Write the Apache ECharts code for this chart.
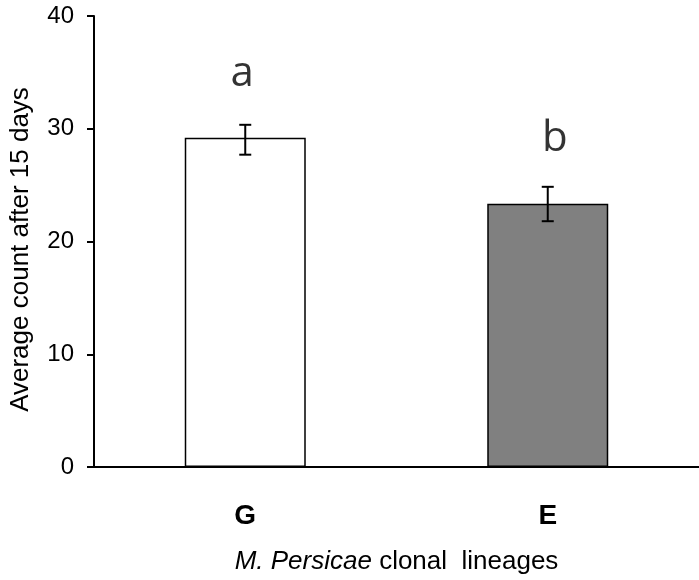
<!DOCTYPE html>
<html>
<head>
<meta charset="utf-8">
<script src="https://cdn.jsdelivr.net/npm/echarts@6/dist/echarts.min.js"></script>
<style>html,body{margin:0;padding:0;background:#fff}#c{width:699px;height:580px}</style>
</head>
<body>
<div id="c"></div>
<script>
var categories = ['G', 'E'];
var means = [29.2, 23.35];
var errLow = [27.7, 21.8];
var errHigh = [30.35, 24.85];
var letters = ['a', 'b'];
var letterY = [33.0, 27.2];
var barColors = ['#ffffff', '#808080'];
var yTicks = [0, 10, 20, 30, 40];

var chart = echarts.init(document.getElementById('c'), null, {renderer: 'canvas'});
var font = '"Liberation Sans", Arial, sans-serif';
chart.setOption({
  animation: false,
  grid: {left: 93, top: 16, bottom: 98, width: 612, containLabel: false},
  xAxis: {
    type: 'category',
    data: categories,
    axisLine: {lineStyle: {color: '#000', width: 2}},
    axisTick: {show: false},
    axisLabel: {color: '#000', fontFamily: font, fontWeight: 'bold', fontSize: 28, margin: 35},
    name: '{i|M. Persicae} clonal  lineages',
    nameLocation: 'middle',
    nameGap: 82,
    nameTextStyle: {
      color: '#000', fontFamily: font, fontSize: 26,
      rich: {i: {fontStyle: 'italic', fontFamily: font, fontSize: 26, color: '#000'}}
    }
  },
  yAxis: {
    type: 'value',
    min: 0, max: 40, interval: 10,
    axisLine: {show: true, lineStyle: {color: '#000', width: 2}},
    axisTick: {show: true, length: 7, lineStyle: {color: '#000', width: 2}},
    splitLine: {show: false},
    axisLabel: {color: '#000', fontFamily: font, fontSize: 24, margin: 20,
      formatter: function (v) { return yTicks.indexOf(v) >= 0 ? String(v) : ''; }},
    name: 'Average count after 15 days',
    nameLocation: 'middle',
    nameGap: 60,
    nameTextStyle: {color: '#000', fontFamily: font, fontSize: 26, padding: [0, 16, 0, 0]}
  },
  series: [
    {
      type: 'bar',
      barWidth: '40%',
      data: means.map(function (v, i) {
        return {value: v, itemStyle: {color: barColors[i], borderColor: '#000', borderWidth: 1.5}};
      }),
      z: 2
    },
    {
      type: 'custom',
      z: 3,
      data: categories.map(function (c, i) { return [i, errLow[i], errHigh[i]]; }),
      renderItem: function (params, api) {
        var lo = api.coord([api.value(0), api.value(1)]);
        var hi = api.coord([api.value(0), api.value(2)]);
        var hw = 6;
        var st = {stroke: '#000', lineWidth: 2};
        return {
          type: 'group',
          children: [
            {type: 'line', shape: {x1: hi[0], y1: hi[1], x2: lo[0], y2: lo[1]}, style: st},
            {type: 'line', shape: {x1: hi[0] - hw, y1: hi[1], x2: hi[0] + hw, y2: hi[1]}, style: st},
            {type: 'line', shape: {x1: lo[0] - hw, y1: lo[1], x2: lo[0] + hw, y2: lo[1]}, style: st}
          ]
        };
      }
    },
    {
      type: 'scatter',
      symbolSize: 0,
      z: 4,
      data: letterY.map(function (v, i) {
        return {value: v, label: {offset: [i === 0 ? -3 : 7, 0], formatter: letters[i]}};
      }),
      label: {show: true, position: 'top', distance: 0, color: '#000', fontFamily: '"Open Sans", sans-serif', fontSize: 42}
    }
  ]
});
</script>
</body>
</html>
